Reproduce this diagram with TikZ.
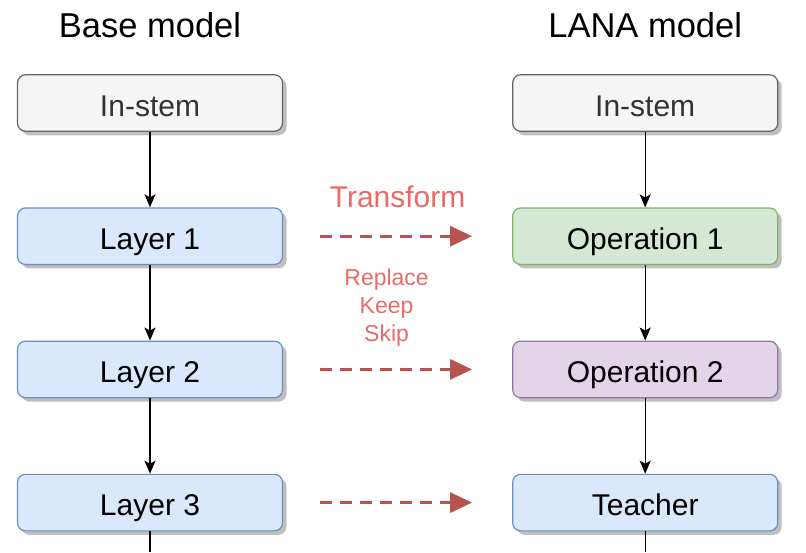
\documentclass[tikz,border=0pt]{standalone}
\usepackage{fontspec}
\setmainfont{Liberation Sans}
\usetikzlibrary{positioning,shadows,calc}
\usetikzlibrary{arrows.meta}

\definecolor{stemfill}{HTML}{F5F5F5}
\definecolor{stemline}{HTML}{666666}
\definecolor{stemtext}{HTML}{333333}
\definecolor{bluefill}{HTML}{DAE8FC}
\definecolor{blueline}{HTML}{6C8EBF}
\definecolor{greenfill}{HTML}{D5E8D4}
\definecolor{greenline}{HTML}{82B366}
\definecolor{purplefill}{HTML}{E1D5E7}
\definecolor{purpleline}{HTML}{9673A6}
\definecolor{tfline}{HTML}{B85450}
\definecolor{tftext}{HTML}{EA6B66}

\begin{document}
\begin{tikzpicture}[x=1pt,y=-1pt,node distance=75.5pt and 229pt,
    >={Stealth[length=13pt,width=11pt,inset=3pt]},
    box/.style={rectangle,rounded corners=8pt,draw,line width=1.2pt,
                minimum width=265pt,minimum height=56.5pt,
                text height=26pt,text depth=0pt,
                font=\fontsize{30}{36}\selectfont,
                drop shadow={shadow xshift=4pt,shadow yshift=-4pt,
                             fill=black!25,opacity=1}},
    stembox/.style={box,fill=stemfill,draw=stemline,text=stemtext},
    layerbox/.style={box,fill=bluefill,draw=blueline},
    opbox1/.style={box,fill=greenfill,draw=greenline},
    opbox2/.style={box,fill=purplefill,draw=purpleline},
    title/.style={inner sep=0pt,font=\fontsize{34.5}{41}\selectfont},
    flow/.style={->,line width=1.4pt},
    transform/.style={-{Triangle[length=22pt,width=20pt]},draw=tfline,
                      fill=tfline,line width=3pt,dash pattern=on 12pt off 8pt,
                      shorten <=37pt,shorten >=40pt},
    tflabel/.style={text=tftext,inner sep=0pt}]

  \useasboundingbox (0,0) rectangle (806,552);

  \node[stembox]  (B0) at (150,103)    {In-stem};
  \node[layerbox] (B1) [below=of B0]   {Layer 1};
  \node[layerbox] (B2) [below=of B1]   {Layer 2};
  \node[layerbox] (B3) [below=of B2]   {Layer 3};
  \coordinate     (B4) at (B3 |- 0,552);

  \node[stembox]  (L0) [right=of B0]   {In-stem};
  \node[opbox1]   (L1) [right=of B1]   {Operation 1};
  \node[opbox2]   (L2) [right=of B2]   {Operation 2};
  \node[layerbox] (L3) [right=of B3]   {Teacher};
  \coordinate     (L4) at (L3 |- 0,552);

  \node[title] (base) [above=36pt of B0] {Base model};
  \node[title] (lana) [above=36pt of L0] {LANA model};

  \path[flow]
        (B0) edge     (B1)
        (B1) edge     (B2)
        (B2) edge     (B3)
        (B3) edge[-]  (B4)
        (L0) edge     (L1)
        (L1) edge     (L2)
        (L2) edge     (L3)
        (L3) edge[-]  (L4)
  ;

  \path[transform]
        (B1) edge node[tflabel,above=27pt,font=\fontsize{30}{36}\selectfont] {Transform} (L1)
        (B2) edge (L2)
        (B3) edge (L3)
  ;

  \node[tflabel,align=center,font=\fontsize{23}{28}\selectfont,xshift=-11pt,yshift=-5pt]
       (ops) at ($(B1)!0.5!(L2)$) {Replace\\Keep\\Skip};
\end{tikzpicture}
\end{document}
